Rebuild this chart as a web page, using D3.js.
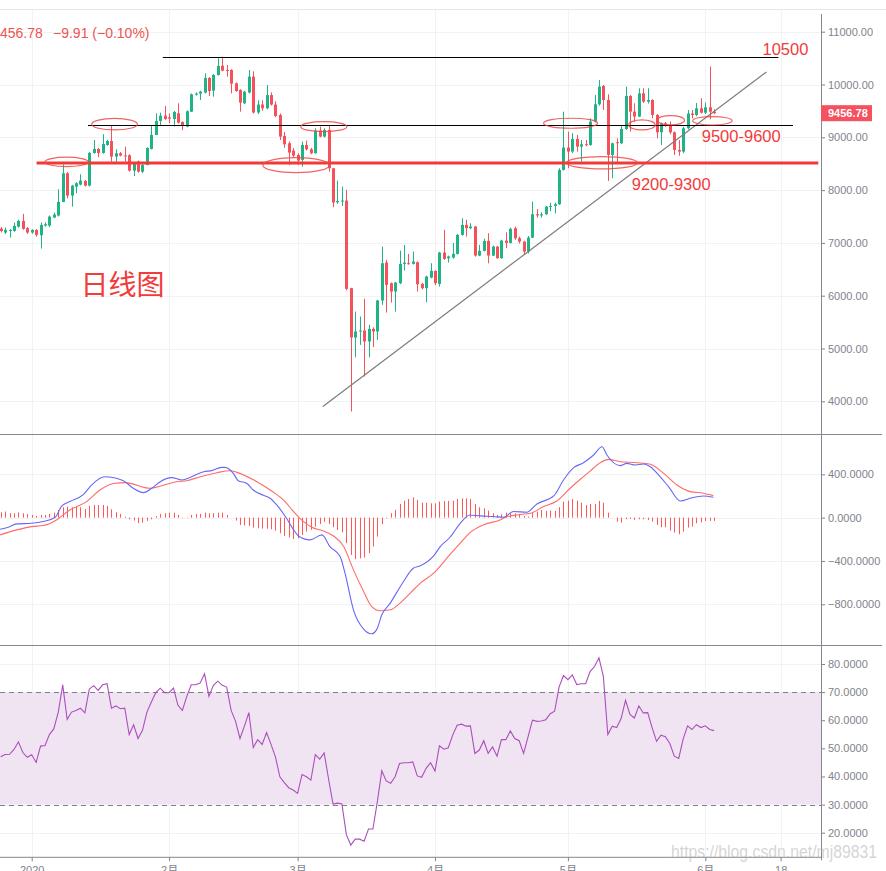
<!DOCTYPE html>
<html><head><meta charset="utf-8">
<script src="https://cdn.jsdelivr.net/npm/d3@7"></script>
<style>
html,body{margin:0;padding:0;background:#fff;}
svg{display:block;font-family:"Liberation Sans",Arial,"Noto Sans CJK SC",sans-serif;}
</style></head>
<body>
<svg id="chart" width="886" height="871"></svg>
<script>
// ---------- DATA ----------
const firstCandle = "2019-12-25";   // daily candles (UTC+8 sessions)
const opens  = [7270,7196,7233,7227,7309,7417,7278,7196,7246,7145,7328,7328,7480,7518,7776,8319,7896,8066,8104,8174,8085,8704,8780,8704,8855,8931,8634,8697,8657,8660,8369,8540,8350,8477,8780,9045,9310,9410,9379,9347,9455,9291,9202,9486,9808,9827,9846,10124,9884,10180,10357,10275,10275,10023,9896,9644,9846,10149,9470,9620,9550,9800,9620,9423,9026,8887,8748,8666,8572,8855,8773,8698,9127,9013,9140,8414,7770,7789,7802,6142,5208,5322,5341,5133,5372,5322,5909,6628,6237,6079,6237,6603,6615,6603,6634,6224,6142,6344,6470,6224,6817,6710,6723,6792,7152,7341,7278,7310,6760,6849,7038,6760,6931,6710,7044,7000,7278,7089,7025,6836,7100,7543,7520,7543,7688,7700,7732,8382,8805,8729,8969,8824,8868,8855,9297,9625,9972,9707,8666,8906,8887,9158,9783,9486,9392,9833,9675,9707,9423,9095,9265,9234,9095,8761,8729,9171,9450,9423,9549,9467,9568,9486];
const highs  = [7300,7290,7265,7385,7440,7549,7300,7260,7260,7385,7390,7520,7574,8016,8489,8340,8100,8150,8300,8190,8720,8950,8800,9057,8950,9215,8773,8720,8824,8680,8510,8560,8490,8810,9228,9455,9467,9593,9455,9500,9644,9300,9510,9830,9850,9880,10212,10140,10200,10496,10527,10370,10290,10040,9910,9880,10275,10250,9700,9700,9990,9850,9680,9450,9100,8920,8800,8700,8918,8937,8800,9171,9203,9171,9234,8420,8180,8067,8004,6150,5700,5606,5940,5448,5400,5920,6931,6680,6250,6260,6855,6962,6792,6836,6650,6240,6380,6615,6480,6830,7246,6760,6994,7171,7467,7436,7373,7320,6962,7080,7183,6950,6940,7060,7200,7290,7310,7120,7040,7130,7783,7640,7580,7700,7760,7760,8414,9486,9108,9076,9045,8950,8950,9360,9802,10086,9990,9814,8900,8981,9221,9960,9800,9644,9928,9928,9928,9720,9440,9280,9290,9300,9110,8950,9200,9518,9518,9650,9739,9656,10338,9530];
const lows   = [7200,7170,7101,7210,7290,7250,7170,7175,7120,6893,7310,7300,7470,7500,7770,7846,7688,7940,8090,8070,8070,8690,8622,8690,8840,8540,8527,8640,8540,8350,8268,8330,8319,8470,8770,9040,9215,9330,9265,9202,9260,9139,9190,9480,9790,9707,9830,9783,9770,10170,10250,10149,9833,9860,9486,9630,9830,9450,9440,9500,9530,9600,9380,8950,8800,8477,8620,8477,8445,8750,8680,8690,9000,9000,8351,7676,7740,7700,6100,3807,4836,5069,4470,4836,5025,5164,5827,5681,5871,5700,6220,6477,6590,6590,6079,6120,5877,6330,6200,6174,6680,6628,6700,6780,7140,7120,7260,6740,6750,6840,6615,6750,6700,6700,6900,6990,7060,6990,6773,6800,7090,7480,7480,7530,7600,7560,7720,8370,8414,8700,8729,8540,8830,8840,9280,9600,9518,8174,8224,8500,8870,9140,9108,9297,9380,9650,9640,9360,8981,8855,9200,9060,8666,8650,8700,9150,9360,9400,9450,9440,9341,9440];
const closes = [7225,7246,7246,7322,7417,7265,7196,7246,7152,7341,7353,7499,7536,7776,8319,7896,8085,8130,8180,8085,8704,8780,8704,8874,8931,8634,8697,8653,8650,8369,8496,8350,8477,8798,9045,9310,9410,9347,9354,9480,9278,9228,9493,9814,9827,9865,10124,9877,10180,10351,10262,10256,10016,9877,9657,9865,10149,9470,9620,9550,9800,9620,9404,9013,8868,8710,8654,8559,8855,8773,8698,9127,9013,9140,8414,7764,7795,7802,6130,5208,5322,5341,5133,5372,5322,5909,6615,6205,6079,6249,6603,6628,6603,6647,6218,6142,6363,6470,6237,6817,6697,6742,6792,7152,7341,7278,7310,6760,6849,7038,6760,6931,6710,7044,7000,7265,7089,7025,6836,7100,7543,7520,7543,7688,7700,7732,8382,8805,8729,8969,8824,8868,8855,9297,9625,9960,9707,8666,8887,8887,9158,9783,9486,9392,9833,9675,9707,9423,9095,9265,9234,9095,8761,8729,9171,9450,9423,9549,9467,9568,9486,9456.78];

// MACD histogram, one value per candle
const macdHist = [49,56,40,40,49,40,34, 25,15,25,25,34,46,71,96,102,96, 102,96,80,108,117,117,117,108,77,49, 34,10,-15,-27,-52,-46,-30,-15,15,34, 40,46,46,25,3,3,25,34,34,46, 40,40,46,46,25,0,-27,-67,-73,-76, -92,-98,-101,-101,-107,-120,-144,-169,-184,-196, -190,-160,-129,-113,-83,-58,-37,-58,-89,-113, -135,-236,-344,-384,-375,-368,-328,-267,-175,-61, -6,40,71,126,157,172,187,163,138,138, 132,132,148,154,154,157,172,178,178,172, 126,96,86,65,40,25,31,46,40,40, 34,15,10,46,56,71,62,65,62,96, 148,157,172,157,138,117,126,126,154,138, 46,0,-37,-46,-15,-12,-21,-15,-15,-21, -37,-67,-89,-89,-120,-138,-153,-129,-92,-83, -52,-43,-30,-30,-30];

// MACD line readings: [days after 2020-01-01, value]
const macdLine = [[-7.2,-107],[-5.3,-89],[-3.4,-58],[0,-52],[2.6,-36],[5.3,3],[6.8,108],[8.6,148],[11.7,215],[13.5,301],[16.5,378],[20.7,341],[22.9,271],[25.2,231],[27.1,271],[29.0,332],[31.6,369],[33.9,347],[36.1,378],[38.8,424],[40.6,434],[42.9,464],[43.6,464],[45.5,409],[46.6,341],[48.5,317],[50.0,255],[52.3,206],[53.8,179],[55.3,117],[57.5,-6],[59.1,-113],[60.2,-169],[62.8,-205],[65.5,-159],[67.3,-267],[69.6,-359],[70.7,-513],[72.6,-851],[74.9,-1029],[76.7,-1072],[77.9,-1029],[79.0,-897],[80.9,-789],[83.9,-589],[86.1,-467],[87.7,-445],[90.7,-353],[92.2,-267],[94.4,-181],[96.7,-52],[98.9,25],[101.2,16],[104.2,10],[106.5,3],[108.7,56],[111.7,50],[114.0,126],[117.8,200],[120.0,347],[122.3,461],[124.5,507],[126.8,578],[128.7,655],[129.8,578],[132.8,480],[134.3,501],[136.2,486],[138.1,495],[139.6,470],[141.8,378],[143.7,286],[146.4,154],[148.6,179],[151.6,200],[153.8,188]];
// Signal line readings
const signalLine = [[-7.2,-160],[-3.4,-113],[0,-83],[2.6,-73],[5.6,-21],[8.6,71],[12.4,148],[15.4,255],[18.8,317],[21.1,323],[26.7,271],[30.5,308],[32.7,332],[35.0,341],[38.0,378],[41.8,415],[44.8,433],[46.3,418],[50.8,332],[54.5,237],[56.8,163],[59.1,56],[60.9,-21],[63.2,-89],[65.8,-123],[68.1,-169],[70.4,-267],[72.6,-482],[74.9,-682],[76.7,-820],[78.6,-860],[80.9,-851],[83.1,-789],[85.4,-697],[87.7,-605],[90.7,-513],[94.4,-340],[96.7,-236],[98.9,-138],[101.9,-67],[105.7,-21],[106.9,3],[109.5,25],[112.5,40],[115.5,102],[118.5,154],[121.5,271],[123.8,354],[126.0,430],[128.3,507],[130.2,538],[132.8,516],[136.6,507],[139.6,492],[142.6,409],[145.6,301],[148.6,240],[151.6,225],[153.8,203]];

// RSI, one value per candle
const rsi = [47.0,47.8,47.9,49.6,52.3,48.5,46.8, 47.7,45.0,50.8,51.0,54.9,57.0,62.9,72.6,60.3,62.9, 63.5,64.3,62.6,71.1,72.3,70.6,72.6,73.0,64.3,65.1, 64.1,64.3,54.9,58.4,53.5,56.4,62.9,66.5,69.8,71.4, 69.8,69.8,71.4,65.3,63.5,68.5,72.6,72.6,73.2,76.5, 68.5,72.4,73.9,72.4,71.8,63.5,59.6,53.5,57.9,62.7, 50.3,53.1,51.4,55.6,51.4,47.0,39.9,37.8,36.0,35.2, 34.0,40.7,39.9,38.7,47.8,46.2,48.4,39.0,30.2,30.5, 30.2,19.3,15.6,17.7,17.7,17.0,21.3,21.3,31.1,42.0, 38.4,37.6,39.9,44.6,44.9,44.9,45.2,40.2,39.7,42.9, 44.9,41.9,50.9,49.7,50.2,54.7,58.2,58.6,57.9,58.0, 48.2,49.4,52.7,48.2,50.5,47.2,53.1,53.1,56.2,53.5, 52.7,48.2,54.1,60.0,59.6,59.7,60.2,62.3,63.2,71.8, 75.9,74.4,76.1,72.7,73.0,73.0,77.3,79.1,82.2,75.6, 54.9,57.9,57.4,60.6,67.1,62.1,60.8,65.1,62.6,62.7, 57.4,52.5,54.7,54.1,51.7,47.2,46.4,53.3,58.0,56.7, 58.4,57.4,58.0,56.7,56.3];

// axes
const priceTicks = [4000,5000,6000,7000,8000,9000,10000,11000];
const macdTicks  = [400,0,-400,-800];
const rsiTicks   = [20,30,40,50,60,70,80];
const timeTickDates  = ["2020-01-01","2020-02-01","2020-03-01","2020-04-01","2020-05-01","2020-06-01","2020-06-18"];
const timeTickLabels = ["2020","2月","3月","4月","5月","6月","18"];
const lastPrice = 9456.78, lastChange = -9.91, lastChangePct = -0.10;

// drawings (day offsets from 2020-01-01, prices)
const hLevels = [ {d0:29.6, d1:168.5, p:10521, kind:"black"}, {d0:12.7, d1:171.8, p:9228, kind:"black"}, {d0:1.1, d1:177.5, p:8520, kind:"red"} ];
const trendLine = [[65.7,3902],[165.8,10237]];
// ellipses: centre day, centre price, half-width (days), half-height (price)
const ellipses = [[7.86,8534,4.9,89],[18.69,9249,5.15,110],[59.66,8473,7.5,142],[65.91,9202,5.2,95],[121.6,9266,6.1,95],[128.7,8518,8.0,117],[137.7,9234,3.0,95],[144.2,9323,3.1,89],[153.6,9313,4.45,80]];
const notes = [ {d:164.9, p:10559, t:"10500", big:false}, {d:151.2, p:8918, t:"9500-9600", big:false}, {d:135.4, p:8004, t:"9200-9300", big:false}, {d:11.0, p:6016, t:"日线图", big:true} ];

// ---------- LAYOUT ----------
const svg = d3.select("#chart");
const AX = 821;          // price axis x
const mainTop = 10, mainBot = 434, macdBot = 645, rsiBot = 857.3;
const UP = "#1fb386", DN = "#f5515a", TXT = "#7f838c", GRID = "#f1f2f6", RED = "#f23b3b";

const t0 = Date.UTC(2020,0,1), DAY = 86400000;
const x = d3.scaleUtc().domain([new Date(t0), new Date(Date.UTC(2020,5,1))]).range([31.7,705.3]);
const xd = d => x(new Date(t0 + d*DAY));
const startDay = (Date.parse(firstCandle+"T00:00:00Z") - t0)/DAY;
const yP = d3.scaleLinear().domain([4000,11000]).range([401.3,31.7]);
const yM = d3.scaleLinear().domain([-800,400]).range([604.3,474.3]);
const yR = d3.scaleLinear().domain([20,80]).range([832.7,664]);
const crisp = v => Math.round(v) + 0.5;

const defs = svg.append("defs");
function clip(id,y0,y1){ defs.append("clipPath").attr("id",id).append("rect").attr("x",0).attr("y",y0).attr("width",AX).attr("height",y1-y0); return `url(#${id})`; }
const cMain = clip("cm",mainTop,mainBot), cMacd = clip("cd",mainBot,macdBot), cRsi = clip("cr",macdBot,rsiBot);

// top separator
svg.append("line").attr("x1",0).attr("x2",886).attr("y1",9.5).attr("y2",9.5).attr("stroke","#e6e8ee");

// vertical grid
const tDates = timeTickDates.map(s=>new Date(s+"T00:00:00Z"));
svg.append("g").selectAll("line").data(tDates).join("line")
  .attr("x1",d=>crisp(x(d))).attr("x2",d=>crisp(x(d)))
  .attr("y1",mainTop).attr("y2",rsiBot).attr("stroke",GRID);
// horizontal grids
function hgrid(vals, sc){ svg.append("g").selectAll("line").data(vals).join("line")
  .attr("x1",0).attr("x2",AX).attr("y1",d=>crisp(sc(d))).attr("y2",d=>crisp(sc(d))).attr("stroke",GRID); }
hgrid(priceTicks,yP); hgrid(macdTicks,yM); hgrid(rsiTicks,yR);

// ---------- RSI PANE ----------
const gR = svg.append("g").attr("clip-path",cRsi);
gR.append("rect").attr("x",0).attr("width",AX).attr("y",yR(70)).attr("height",yR(30)-yR(70)).attr("fill","#f0e4f2");
[70,30].forEach(v=>gR.append("line").attr("x1",0).attr("x2",AX).attr("y1",crisp(yR(v))).attr("y2",crisp(yR(v)))
  .attr("stroke","#7d7f88").attr("stroke-dasharray","5,4"));
gR.append("path").datum(rsi).attr("fill","none").attr("stroke","#ac4fbd").attr("stroke-width",1.1)
  .attr("d",d3.line().x((v,i)=>xd(startDay+i)).y(v=>yR(v)));

// ---------- MACD PANE ----------
const gM = svg.append("g").attr("clip-path",cMacd);
gM.selectAll("rect").data(macdHist).join("rect")
  .attr("x",(v,i)=>Math.round(xd(startDay+i))).attr("width",1)
  .attr("y",v=>Math.min(yM(0),yM(v))).attr("height",v=>Math.max(0.01,Math.abs(yM(v)-yM(0))))
  .attr("fill","#ff5656");
const ln = d3.line().x(p=>xd(p[0])).y(p=>yM(p[1])).curve(d3.curveMonotoneX);
gM.append("path").datum(signalLine).attr("fill","none").attr("stroke","#ff6a6a").attr("stroke-width",1.1).attr("d",ln);
gM.append("path").datum(macdLine).attr("fill","none").attr("stroke","#6767f7").attr("stroke-width",1.1).attr("d",ln);

// ---------- MAIN PANE ----------
const gC = svg.append("g").attr("clip-path",cMain);
const candles = opens.map((o,i)=>({d:startDay+i,o,h:highs[i],l:lows[i],c:closes[i]}));
const cg = gC.append("g").selectAll("g").data(candles).join("g");
cg.append("rect").attr("x",c=>Math.round(xd(c.d))).attr("width",1)
  .attr("y",c=>yP(c.h)).attr("height",c=>yP(c.l)-yP(c.h)).attr("fill",c=>c.c>=c.o?UP:DN);
cg.append("rect").attr("x",c=>Math.round(xd(c.d))-1).attr("width",3)
  .attr("y",c=>yP(Math.max(c.o,c.c))).attr("height",c=>Math.max(1,Math.abs(yP(c.o)-yP(c.c))))
  .attr("fill",c=>c.c>=c.o?UP:DN);

// drawings
const gD = svg.append("g").attr("clip-path",cMain);
gD.append("line").attr("x1",xd(trendLine[0][0])).attr("y1",yP(trendLine[0][1]))
  .attr("x2",xd(trendLine[1][0])).attr("y2",yP(trendLine[1][1])).attr("stroke","#7b7b7b").attr("stroke-width",1.2);
hLevels.forEach(h=>{
  const red = h.kind==="red";
  const yy = red ? Math.round(yP(h.p)) : crisp(yP(h.p));
  gD.append("line").attr("x1",xd(h.d0)).attr("x2",xd(h.d1)).attr("y1",yy).attr("y2",yy)
    .attr("stroke",red?"#f33838":"#000").attr("stroke-width",red?3:1);
});
gD.selectAll("ellipse").data(ellipses).join("ellipse")
  .attr("cx",e=>xd(e[0])).attr("cy",e=>yP(e[1]))
  .attr("rx",e=>xd(e[0]+e[2])-xd(e[0])).attr("ry",e=>yP(e[1]-e[3])-yP(e[1]))
  .attr("fill","none").attr("stroke","#f04848").attr("stroke-width",1.2).attr("stroke-opacity",0.85);
notes.forEach(n=>{
  gD.append("text").attr("x",xd(n.d)).attr("y",yP(n.p)).text(n.t)
    .attr("fill",RED).attr("font-size",n.big?28:16.5)
    .attr("font-family",n.big?"'Noto Sans CJK SC',sans-serif":"'Liberation Sans',Arial,sans-serif");
});

// header
svg.append("text").attr("x",-7.8).attr("y",38).attr("font-size",14).attr("fill","#ef5350").text(d3.format(".2f")(lastPrice));
svg.append("text").attr("x",53).attr("y",38).attr("font-size",14).attr("fill","#ef5350")
  .text(`${d3.format(".2f")(lastChange)} (${d3.format(".2f")(lastChangePct)}%)`);

// ---------- AXES ----------
function styleAxis(g){ g.select(".domain").remove(); g.selectAll(".tick line").attr("stroke",TXT);
  g.selectAll("text").attr("fill",TXT).attr("font-size",11).attr("font-family","'Liberation Sans',Arial,'Noto Sans CJK SC',sans-serif"); }
svg.append("g").attr("transform",`translate(${AX},0)`).call(d3.axisRight(yP).tickValues(priceTicks).tickFormat(d3.format(".2f")).tickSize(4).tickPadding(3)).call(styleAxis);
svg.append("g").attr("transform",`translate(${AX},0)`).call(d3.axisRight(yM).tickValues(macdTicks).tickFormat(d3.format(".4f")).tickSize(4).tickPadding(3)).call(styleAxis);
svg.append("g").attr("transform",`translate(${AX},0)`).call(d3.axisRight(yR).tickValues(rsiTicks).tickFormat(d3.format(".4f")).tickSize(4).tickPadding(3)).call(styleAxis);
svg.append("g").attr("transform",`translate(0,${rsiBot})`).call(d3.axisBottom(x).tickValues(tDates).tickFormat((d,i)=>timeTickLabels[i]).tickSize(4).tickPadding(5)).call(styleAxis);

// frame lines
const frame = svg.append("g").attr("stroke","#858892").attr("stroke-width",1);
frame.append("line").attr("x1",AX+0.5).attr("x2",AX+0.5).attr("y1",14).attr("y2",rsiBot+3);
frame.append("line").attr("x1",0).attr("x2",882).attr("y1",mainBot+0.5).attr("y2",mainBot+0.5);
frame.append("line").attr("x1",0).attr("x2",882).attr("y1",macdBot+0.5).attr("y2",macdBot+0.5);
frame.append("line").attr("x1",0).attr("x2",AX).attr("y1",rsiBot).attr("y2",rsiBot);

// last price label
const yl = yP(lastPrice);
svg.append("rect").attr("x",AX).attr("y",yl-8).attr("width",51).attr("height",16).attr("fill","#f5515f");
svg.append("text").attr("x",AX+7).attr("y",yl).attr("dy","0.35em").attr("fill","#fff").attr("font-size",11).attr("font-weight","bold").text(d3.format(".2f")(lastPrice));

// watermark
svg.append("text").attr("x",671).attr("y",858).attr("font-size",18).attr("textLength",206).attr("lengthAdjust","spacingAndGlyphs")
  .attr("fill","rgba(170,170,170,0.5)").attr("font-family","'Liberation Sans Narrow','Liberation Sans',Arial,sans-serif").text("https://blog.csdn.net/mj89831");
</script>
</body></html>
